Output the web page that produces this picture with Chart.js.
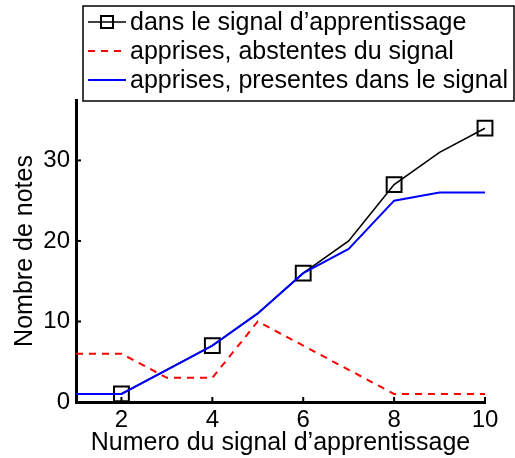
<!DOCTYPE html>
<html>
<head>
<meta charset="utf-8">
<script src="https://cdn.jsdelivr.net/npm/chart.js@4"></script>
<style>
  html, body { margin: 0; padding: 0; background: #fff; }
  #wrap { width: 515px; height: 458px; }
</style>
</head>
<body>
<div id="wrap"><canvas id="notes" width="515" height="458"></canvas></div>
<script>
// numero du signal d'apprentissage
const signaux = [1, 2, 3, 4, 5, 6, 7, 8, 9, 10];
// notes dans le signal
const dansSignal = [1, 1, 4, 7, 11, 16, 20, 27, 31, 34];
// notes apprises absentes du signal
const absentes = [6, 6, 3, 3, 10, 7, 4, 1, 1, 1];
// notes apprises presentes dans le signal
const presentes = [1, 1, 4, 7, 11, 16, 19, 25, 26, 26];

const xTicks = [2, 4, 6, 8, 10];
const yTicks = [0, 10, 20, 30];

const FONT = "Liberation Sans, Arial, Helvetica, sans-serif";

function pts(vals) {
    return signaux.map((x, i) => ({ x: x, y: vals[i] }));
}

// graduations vers l'interieur + legende encadree
const axesEtLegende = {
    id: "axesEtLegende",
    afterDraw(chart) {
        const c = chart.ctx;
        const xs = chart.scales.x, ys = chart.scales.y;
        const area = chart.chartArea;
        c.save();
        c.strokeStyle = "#000";
        c.lineWidth = 2;
        xTicks.forEach(v => {
            const px = xs.getPixelForValue(v);
            c.beginPath();
            c.moveTo(px, area.bottom);
            c.lineTo(px, area.bottom - 5);
            c.stroke();
        });
        yTicks.forEach(v => {
            const py = ys.getPixelForValue(v);
            c.beginPath();
            c.moveTo(area.left, py);
            c.lineTo(area.left + 5, py);
            c.stroke();
        });

        // legende
        const bx = 83, by = 6, bw = 431, bh = 95;
        c.fillStyle = "#fff";
        c.fillRect(bx, by, bw, bh);
        c.lineWidth = 1.5;
        c.strokeStyle = "#000";
        c.strokeRect(bx, by, bw, bh);
        c.font = "25px " + FONT;
        c.textBaseline = "middle";
        const entries = [0, 1, 2].map(i => chart.data.datasets[i]);
        entries.forEach((ds, i) => {
            const y = by + 16 + i * 29;
            c.save();
            c.strokeStyle = ds.borderColor;
            c.lineWidth = ds.borderWidth;
            c.setLineDash(ds.borderDash || []);
            c.beginPath();
            c.moveTo(bx + 5, y);
            c.lineTo(bx + 43, y);
            c.stroke();
            c.restore();
            if (ds.legendMarker) {
                c.lineWidth = 2;
                c.strokeStyle = "#000";
                c.strokeRect(bx + 18, y - 6, 12, 12);
            }
            c.fillStyle = "#000";
            c.fillText(ds.label, bx + 47, y + 1);
        });
        c.restore();
    }
};

new Chart(document.getElementById("notes"), {
    type: "line",
    data: {
        datasets: [
            {
                label: "dans le signal d\u2019apprentissage",
                data: pts(dansSignal),
                borderColor: "#000",
                borderWidth: 1.6,
                pointStyle: "rect",
                pointRadius: ctx => (xTicks.includes(ctx.raw && ctx.raw.x) ? 10.5 : 0),
                pointBorderWidth: 2,
                pointBorderColor: "#000",
                pointBackgroundColor: "rgba(0,0,0,0)",
                legendMarker: true,
                clip: false,
                order: 2,
            },
            {
                label: "apprises, abstentes du signal",
                data: pts(absentes),
                borderColor: "#ff0000",
                borderWidth: 2,
                borderDash: [7, 6],
                pointRadius: 0,
                order: 1,
            },
            {
                label: "apprises, presentes dans le signal",
                data: pts(presentes),
                borderColor: "#0000ff",
                borderWidth: 2,
                pointRadius: 0,
                order: 0,
            },
        ],
    },
    options: {
        responsive: false,
        animation: false,
        layout: { padding: { left: 0, right: 30, top: 100, bottom: 0 } },
        plugins: {
            legend: { display: false },
            tooltip: { enabled: false },
        },
        scales: {
            x: {
                type: "linear",
                min: 1,
                max: 10,
                afterBuildTicks: s => { s.ticks = xTicks.map(v => ({ value: v })); },
                afterFit: s => { s.height = 56; },
                grid: { drawOnChartArea: false, drawTicks: false },
                border: { display: true, color: "#000", width: 3 },
                ticks: { color: "#000", padding: 4, font: { family: FONT, size: 24 } },
                title: {
                    display: true,
                    text: "Numero du signal d\u2019apprentissage",
                    color: "#000",
                    padding: { top: 0, bottom: 0 },
                    font: { family: FONT, size: 25 },
                },
            },
            y: {
                min: 0,
                max: 37.5,
                afterBuildTicks: s => { s.ticks = yTicks.map(v => ({ value: v })); },
                afterFit: s => { s.width = 76; },
                grid: { drawOnChartArea: false, drawTicks: false },
                border: { display: true, color: "#000", width: 3 },
                ticks: { color: "#000", padding: 6, font: { family: FONT, size: 24 } },
                title: {
                    display: true,
                    text: "Nombre de notes",
                    color: "#000",
                    padding: { top: 10, bottom: 0 },
                    font: { family: FONT, size: 25 },
                },
            },
        },
    },
    plugins: [axesEtLegende],
});
</script>
</body>
</html>
